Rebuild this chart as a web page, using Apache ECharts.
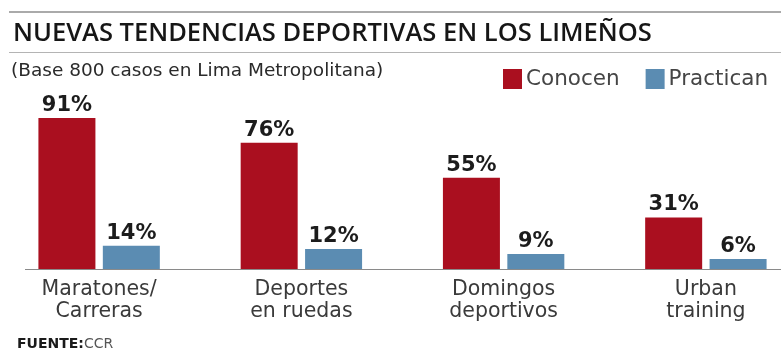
<!DOCTYPE html>
<html>
<head>
<meta charset="utf-8">
<script src="https://cdn.jsdelivr.net/npm/echarts@6/dist/echarts.min.js"></script>
<style>
  html, body { margin: 0; padding: 0; background: #ffffff; }
  #chart { width: 781px; height: 351px; }
</style>
</head>
<body>
<div id="chart"></div>
<script>
// Survey results: awareness vs. practice of new sports trends in Lima
const categories = ['Maratones/\nCarreras', 'Deportes\nen ruedas', 'Domingos\ndeportivos', 'Urban\ntraining'];
const conocen = [91, 76, 55, 31];
const practican = [14, 12, 9, 6];
const seriesNames = ['Conocen', 'Practican'];
const titleText = 'NUEVAS TENDENCIAS DEPORTIVAS EN LOS LIMEÑOS';
const subtitleText = '(Base 800 casos en Lima Metropolitana)';

const RED = '#aa0f1f';
const BLUE = '#5b8cb2';
const FONT = '"DejaVu Sans", sans-serif';

const chart = echarts.init(document.getElementById('chart'), null, { renderer: 'canvas' });

const valueLabel = {
  show: true,
  position: 'top',
  distance: 2,
  formatter: '{c}%',
  fontFamily: FONT,
  fontWeight: 'bold',
  fontSize: 21,
  color: '#1c1c1c'
};

chart.setOption({
  backgroundColor: '#ffffff',
  animation: false,
  title: [
    {
      text: titleText,
      left: 13,
      top: 21,
      padding: 0,
      textStyle: { fontFamily: '"Open Sans", sans-serif', fontWeight: 600, fontSize: 25.5, color: '#161616' }
    },
    {
      text: subtitleText,
      left: 11,
      top: 62,
      padding: 0,
      textStyle: { fontFamily: FONT, fontWeight: 'normal', fontSize: 18.5, color: '#2a2a2a' }
    },
    {
      text: '{b|FUENTE:}{r|CCR}',
      left: 17,
      top: 337,
      padding: 0,
      textStyle: {
        rich: {
          b: { fontFamily: FONT, fontWeight: 'bold', fontSize: 14, color: '#1a1a1a' },
          r: { fontFamily: FONT, fontWeight: 'normal', fontSize: 14, color: '#555' }
        }
      }
    }
  ],
  legend: {
    data: seriesNames,
    left: 503,
    top: 68,
    padding: 0,
    icon: 'rect',
    itemWidth: 19,
    itemHeight: 20,
    itemGap: 26,
    textStyle: { fontFamily: FONT, fontSize: 21.5, color: '#454545', padding: [0, 0, 0, -1] }
  },
  grid: { left: -2, width: 809, top: 103, height: 166, outerBoundsMode: 'none' },
  xAxis: {
    type: 'category',
    data: categories,
    axisLine: { show: false },
    axisTick: { show: false },
    axisLabel: {
      interval: 0,
      margin: 10,
      fontFamily: FONT,
      fontSize: 20.5,
      lineHeight: 22,
      color: '#3a3a3a'
    }
  },
  yAxis: {
    type: 'value',
    min: 0,
    max: 100,
    show: false,
    splitLine: { show: false }
  },
  series: [
    {
      name: seriesNames[0],
      type: 'bar',
      data: conocen,
      barWidth: 57,
      barGap: '13%',
      itemStyle: { color: RED },
      label: valueLabel
    },
    {
      name: seriesNames[1],
      type: 'bar',
      data: practican,
      barWidth: 57,
      itemStyle: { color: BLUE },
      label: valueLabel
    }
  ],
  graphic: [
    { type: 'line', shape: { x1: 9, y1: 12, x2: 781, y2: 12 }, style: { stroke: '#aaaaaa', lineWidth: 2 } },
    { type: 'line', shape: { x1: 9, y1: 52.5, x2: 781, y2: 52.5 }, style: { stroke: '#b4b4b4', lineWidth: 1 } },
    { type: 'line', shape: { x1: 25, y1: 269.5, x2: 781, y2: 269.5 }, style: { stroke: '#8a8a8a', lineWidth: 1.2 }, z: 10 }
  ]
});
</script>
</body>
</html>
